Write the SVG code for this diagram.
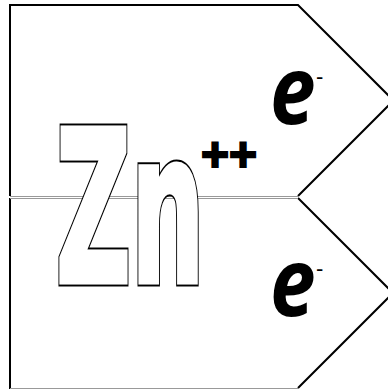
<svg xmlns="http://www.w3.org/2000/svg" width="388" height="389" viewBox="0 0 388 389">
  <style>
    .edge { fill: none; stroke: #000; stroke-width: 2; stroke-linejoin: miter; }
    .seam { fill: none; stroke: #999; stroke-width: 1; }
    .zn { font-family: "DejaVu Sans", sans-serif; font-weight: bold; font-size: 211px; stroke-linejoin: miter; stroke-miterlimit: 4; }
    .zn-out { fill: #000; stroke: #000; stroke-width: 7; }
    .zn-in { fill: #fff; stroke: #fff; stroke-width: 4; }
    .plus { font-family: "Liberation Sans", Arial, sans-serif; font-weight: bold; font-size: 48px; fill: #000; stroke: #000; stroke-width: 2; stroke-linejoin: miter; }
    .e { font-family: "Open Sans", "Noto Sans", sans-serif; font-weight: bold; font-style: italic; font-size: 86px; fill: #000; }
    .minus { font-family: "Liberation Sans", Arial, sans-serif; font-size: 22px; fill: #000; }
  </style>
  <rect width="388" height="389" fill="#fff"/>
  <g id="top-arrow">
    <path class="edge" d="M10,196 L10,5 L298,5 L393.5,100.5 L298,196"/>
    <path class="seam" d="M10,196.5 H298"/>
  </g>
  <g id="bottom-arrow">
    <path class="edge" d="M10,198 L10,389 M298,198 L393,293 L298,388"/>
    <path class="seam" d="M10,198.5 H298 M10,388.5 H298"/>
  </g>
  <g id="zn-label">
    <text class="zn zn-out" transform="translate(56,282) scale(0.49,1)" vector-effect="non-scaling-stroke" style="vector-effect:non-scaling-stroke">Zn</text>
    <text class="zn zn-in" transform="translate(56,282) scale(0.49,1)" vector-effect="non-scaling-stroke" style="vector-effect:non-scaling-stroke">Zn</text>
    <text class="plus" x="201" y="171">++</text>
  </g>
  <g id="e-top">
    <text class="e" transform="translate(270,124) scale(0.95,1.1)">e</text>
    <text class="minus" x="316" y="84">-</text>
  </g>
  <g id="e-bottom">
    <text class="e" transform="translate(270,316) scale(0.95,1.1)">e</text>
    <text class="minus" x="316" y="276">-</text>
  </g>
</svg>
